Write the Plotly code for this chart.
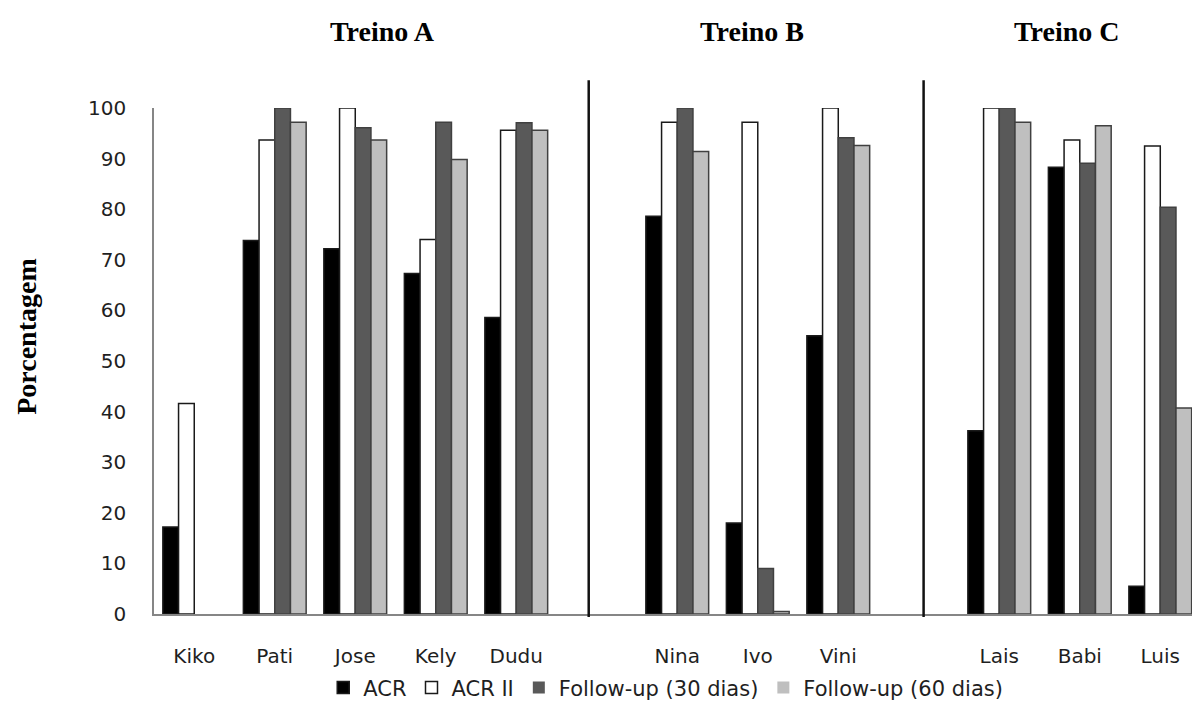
import plotly.graph_objects as go

# Participants, in the order they appear on the axis
participants = ["Kiko", "Pati", "Jose", "Kely", "Dudu",
                "Nina", "Ivo", "Vini",
                "Lais", "Babi", "Luis"]

# Percentages per condition
acr = [17.2, 73.8, 72.2, 67.3, 58.6, 78.6, 18.0, 55.0, 36.2, 88.3, 5.5]
acr_ii = [41.6, 93.7, 100.0, 74.0, 95.6, 97.2, 97.2, 100.0, 100.0, 93.7, 92.5]
follow_30 = [0.0, 100.0, 96.1, 97.2, 97.1, 100.0, 9.0, 94.1, 100.0, 89.1, 80.4]
follow_60 = [0.0, 97.2, 93.7, 89.8, 95.6, 91.4, 0.5, 92.6, 97.2, 96.5, 40.7]

series_names = ["ACR", "ACR II", "Follow-up (30 dias)", "Follow-up (60 dias)"]
y_ticks = [0, 10, 20, 30, 40, 50, 60, 70, 80, 90, 100]
group_titles = ["Treino A", "Treino B", "Treino C"]

# Axis order with blank slots separating the three training groups
axis_order = participants[:5] + [" "] + participants[5:8] + ["  "] + participants[8:]

fills = ["#000000", "#ffffff", "#595959", "#bfbfbf"]
edges = ["#1a1a1a", "#1a1a1a", "#404040", "#404040"]

fig = go.Figure()
for name, vals, fc, ec in zip(series_names, [acr, acr_ii, follow_30, follow_60], fills, edges):
    # no outline on empty bars so the baseline stays grey there
    widths = [1.5 if v > 0 else 0 for v in vals]
    fig.add_trace(go.Bar(
        name=name, x=participants, y=vals,
        marker=dict(color=fc, line=dict(color=ec, width=widths)),
        cliponaxis=False,
    ))

tick_font = dict(family="DejaVu Sans", size=20, color="#1f1f1f")

fig.update_layout(
    width=1192, height=718,
    margin=dict(l=154, r=0, t=108, b=104),
    paper_bgcolor="white", plot_bgcolor="white",
    barmode="group", bargap=0.22, bargroupgap=0,
    showlegend=True,
    legend=dict(orientation="h", x=0.493, xanchor="center", y=-0.146, yanchor="middle",
                font=dict(family="DejaVu Sans", size=21, color="#1f1f1f"),
                itemwidth=30, traceorder="normal"),
    xaxis=dict(type="category", categoryorder="array", categoryarray=axis_order,
               range=[-0.5, 12.394], showline=True, linecolor="#868686", linewidth=1.5,
               showgrid=False, ticks="", tickfont=tick_font, ticklabelstandoff=23,
               zeroline=False),
    yaxis=dict(range=[0, 100], tickvals=y_ticks, showline=True, linecolor="#868686",
               linewidth=1.5, showgrid=False, ticks="", tickfont=tick_font,
               ticklabelstandoff=22, zeroline=False),
)

# Vertical separators between training groups
for xs in [4.9, 9.06]:
    fig.add_shape(type="line", xref="x", yref="paper", x0=xs, x1=xs, y0=-0.006, y1=1.055,
                  line=dict(color="#111111", width=2.5), layer="above")

# Group titles
for title, px in zip(group_titles, [0.2206, 0.576, 0.8796]):
    fig.add_annotation(text="<b>%s</b>" % title, xref="paper", yref="paper", x=px, y=1.152,
                       showarrow=False, xanchor="center", yanchor="middle",
                       font=dict(family="Liberation Serif", size=28, color="#000000"))

# Axis title
fig.add_annotation(text="<b>Porcentagem</b>", xref="paper", yref="paper", x=-0.1223, y=0.548,
                   showarrow=False, textangle=-90, xanchor="center", yanchor="middle",
                   font=dict(family="Liberation Serif", size=28, color="#000000"))

fig.write_html("out.html")
